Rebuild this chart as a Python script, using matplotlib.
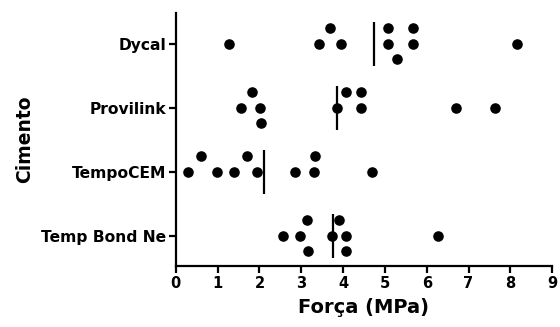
import numpy as np
import matplotlib
matplotlib.use('Agg')
import matplotlib.pyplot as plt

plt.rcParams['font.family'] = 'DejaVu Sans'
plt.rcParams['font.weight'] = 'bold'

# Data (Força in MPa)
groups = ['Temp Bond Ne', 'TempoCEM', 'Provilink', 'Dycal']
temp_bond = [2.57, 2.97, 3.15, 3.14, 3.73, 3.91, 4.06, 4.07, 6.28]
tempocem = [0.28, 0.61, 0.99, 1.39, 1.69, 1.93, 2.85, 3.30, 3.34, 4.68]
provilink = [1.55, 1.83, 2.01, 2.03, 3.86, 4.06, 4.42, 4.44, 6.70, 7.63]
dycal = [1.28, 3.42, 3.68, 3.96, 5.08, 5.08, 5.29, 5.68, 5.68, 8.17]
values = [temp_bond, tempocem, provilink, dycal]

px_x = 41.8   # pixels per MPa
px_y = 64.0   # pixels per category
step = 0.24   # vertical swarm step (category units)
diam = 14.0   # collision distance in pixels


def swarm(vals):
    placed = []
    for v in sorted(vals):
        best, best_gap = 0.0, -1e9
        for k in (0, 1, -1):
            dy = k * step
            gap = min([np.hypot((v - pv) * px_x, (dy - pdy) * px_y) for pv, pdy in placed] or [1e9])
            if gap >= diam:
                best = dy
                break
            if gap > best_gap:
                best, best_gap = dy, gap
        placed.append((v, best))
    return placed


fig = plt.figure(figsize=(5.6, 3.27), dpi=100)
ax = fig.add_axes([0.314, 0.187, 0.672, 0.773])

for i, vals in enumerate(values):
    pts = swarm(vals)
    xs = [p[0] for p in pts]
    ys = [i + p[1] for p in pts]
    ax.scatter(xs, ys, s=58, color='black', zorder=3, linewidths=0)
    ax.vlines(np.mean(vals), i - 0.34, i + 0.34, color='black', lw=1.6, zorder=2)

ax.set_xlim(0, 9)
ax.set_ylim(-0.47, 3.48)
ax.set_xticks(range(10))
ax.set_yticks(range(len(groups)))
ax.set_yticklabels(groups)

for s in ['top', 'right']:
    ax.spines[s].set_visible(False)
for s in ['left', 'bottom']:
    ax.spines[s].set_linewidth(1.6)

ax.tick_params(axis='both', which='major', width=1.6, length=5, pad=2)
ax.tick_params(axis='y', labelsize=11.2)
ax.tick_params(axis='x', labelsize=10.5)
ax.set_xlabel('Força (MPa)', fontsize=14, fontweight='bold', labelpad=5)
ax.set_ylabel('Cimento', fontsize=13.5, fontweight='bold', labelpad=5)

fig.savefig('out.png', dpi=100)
